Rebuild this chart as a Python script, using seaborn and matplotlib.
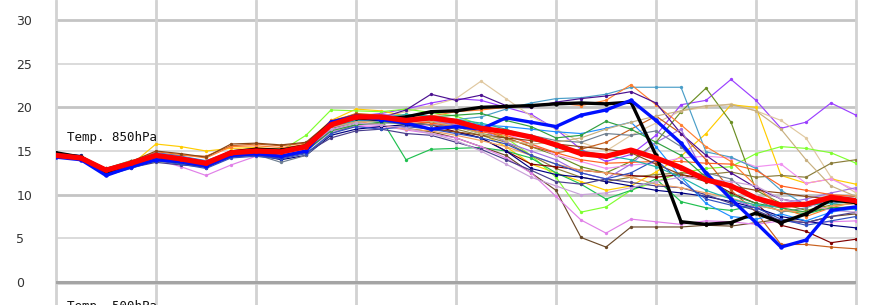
import numpy as np
import pandas as pd
import matplotlib
matplotlib.use("Agg")
import matplotlib.pyplot as plt
import seaborn as sns

# ---- data (Temp. 850hPa ensemble, 6-hourly steps) ----
steps = list(range(33))

mean_run = [14.5,14.2,12.8,13.6,14.5,14.1,13.6,14.8,15.0,14.9,15.5,18.0,18.9,18.9,18.5,18.8,18.4,17.6,17.2,16.6,15.7,14.7,14.4,15.1,14.2,13.1,11.7,11.0,9.6,8.8,8.9,9.7,9.3]
control_run = [14.8,14.3,12.6,13.5,14.4,14.0,13.4,14.9,15.2,15.1,15.6,18.2,18.8,18.6,18.9,19.5,19.6,20.0,20.1,20.2,20.4,20.5,20.4,20.6,14.5,6.9,6.6,6.8,7.9,6.8,7.8,9.4,9.1]
oper_run = [14.3,14.0,12.2,13.2,14.0,13.8,13.3,14.5,14.7,14.4,15.0,18.3,19.0,18.6,18.2,17.5,17.8,17.5,18.8,18.3,17.8,19.1,19.7,20.8,18.5,15.9,12.5,9.5,6.8,4.0,4.8,8.2,8.6]

m01 = [14.6,14.3,12.9,13.8,14.8,14.3,13.8,15.0,15.2,15.0,15.6,18.2,19.0,19.3,19.8,20.5,21.0,20.8,20.0,19.2,17.5,15.2,13.8,14.6,16.8,20.3,20.8,23.2,20.8,17.6,18.3,20.5,19.1]
m02 = [14.4,14.1,12.6,13.5,14.3,14.0,13.5,14.6,14.9,14.7,15.3,17.8,18.7,18.9,19.5,20.2,21.0,23.0,21.0,19.0,17.5,16.0,15.0,16.8,18.2,19.6,20.0,20.4,19.6,18.5,16.5,12.0,10.2]
m03 = [14.5,14.2,12.4,13.4,15.8,15.5,15.0,15.3,15.4,15.2,15.8,18.5,19.8,19.6,19.0,18.6,18.0,17.0,15.5,13.5,12.5,11.5,10.5,11.0,12.6,14.4,17.0,20.3,20.0,12.2,11.3,11.8,11.2]
m04 = [14.3,14.0,12.5,13.2,13.8,13.6,13.2,14.5,14.8,15.0,16.8,19.7,19.6,19.5,19.8,19.4,19.0,18.0,16.5,14.5,12.0,8.0,8.6,10.5,11.5,12.5,13.0,13.2,14.7,15.5,15.3,14.8,13.6]
m05 = [14.7,14.4,13.0,13.9,14.2,13.8,13.5,14.6,14.4,14.2,15.2,17.5,18.5,18.7,14.0,15.2,15.3,15.4,15.0,14.2,12.5,11.2,9.5,10.5,11.8,9.2,8.5,8.2,8.8,8.2,7.8,8.5,8.3]
m06 = [14.5,14.2,12.9,13.7,14.6,14.2,13.7,14.9,15.0,14.8,15.4,17.9,18.6,18.4,18.0,18.3,17.8,17.0,16.5,15.5,14.5,13.2,12.5,13.8,16.0,19.5,22.2,18.3,10.5,9.0,8.2,8.8,9.0]
m07 = [14.6,14.3,12.7,13.5,14.4,14.0,13.6,14.8,15.1,14.9,15.5,17.6,18.3,18.5,18.2,18.0,17.5,16.8,16.0,14.5,13.0,12.0,11.5,12.0,12.3,12.5,12.3,12.6,12.0,12.2,12.0,13.6,14.0]
m08 = [14.4,14.2,12.6,13.4,14.3,13.9,13.4,14.6,14.9,14.6,15.2,17.5,18.2,18.0,17.6,17.2,16.5,15.5,14.5,12.5,10.5,5.1,4.0,6.3,6.3,6.3,6.5,6.4,6.8,7.2,6.8,7.5,7.8]
m09 = [14.3,14.0,12.8,13.3,14.0,13.2,12.2,13.4,14.4,14.2,15.0,17.2,17.8,17.9,17.4,17.0,16.5,15.5,14.2,12.5,9.8,7.1,5.6,7.2,6.9,6.6,7.0,6.9,6.6,7.0,6.8,6.9,7.0]
m10 = [14.5,14.2,12.9,13.6,14.3,13.9,13.5,14.7,14.8,14.6,15.2,17.4,18.0,17.6,17.8,18.0,18.5,17.8,17.0,15.8,14.5,13.8,13.0,13.4,13.6,14.2,14.4,14.2,13.2,13.5,11.3,11.8,10.5]
m11 = [14.6,14.3,12.8,13.7,14.5,14.1,13.7,14.9,15.1,14.9,15.5,17.8,18.5,18.6,18.2,18.0,17.2,16.5,15.0,13.5,13.2,12.8,12.5,12.2,12.0,12.3,11.8,10.2,9.0,6.5,5.8,4.5,4.9]
m12 = [14.5,14.1,12.7,13.6,14.7,14.5,14.4,15.6,15.8,15.6,15.9,18.3,19.3,19.1,18.6,18.4,18.0,17.4,16.5,15.5,14.8,15.2,16.0,17.5,19.0,17.0,14.0,10.5,8.0,4.3,4.3,4.0,3.8]
m13 = [14.6,14.2,12.8,13.6,14.6,14.2,13.6,14.8,15.0,14.8,15.4,18.0,18.8,18.8,18.5,18.7,18.6,18.9,19.8,20.5,21.0,21.1,21.5,22.3,22.3,22.3,14.9,14.3,13.0,10.5,8.8,9.5,9.8]
m14 = [14.4,14.1,12.6,13.7,14.9,14.6,14.2,15.5,15.6,15.4,15.7,18.5,19.2,19.0,18.8,19.0,19.5,19.7,20.0,20.2,20.5,20.2,20.8,22.6,20.3,18.0,15.5,13.8,11.0,8.5,7.5,8.5,9.2]
m15 = [14.5,14.2,12.4,13.3,14.0,13.6,13.1,14.3,14.6,14.4,15.0,17.5,18.5,18.8,19.7,21.5,20.8,21.4,20.2,20.0,20.6,21.0,21.3,21.8,20.5,17.0,14.5,12.5,10.8,9.5,9.0,9.0,9.4]
m16 = [14.7,14.5,12.5,13.2,14.0,13.5,13.2,14.4,14.6,14.0,14.5,16.8,17.5,17.8,18.0,17.5,17.2,16.5,15.0,13.0,12.3,12.0,11.5,11.0,10.5,10.2,9.8,9.2,8.5,7.5,7.0,6.5,6.2]
m17 = [14.5,14.3,12.5,13.5,14.8,14.4,13.9,14.9,15.0,14.9,15.5,18.0,18.6,18.4,18.8,18.6,18.5,18.0,17.8,17.5,17.2,17.0,17.6,18.3,15.5,12.0,9.0,7.5,7.2,7.8,7.0,8.0,8.4]
m18 = [14.6,14.2,13.0,13.8,14.4,14.0,13.4,14.5,14.6,13.7,14.5,17.0,18.0,18.2,18.2,18.0,17.8,17.5,17.0,16.8,16.2,16.0,17.0,16.8,17.3,15.5,12.5,11.8,9.5,8.0,8.5,9.5,9.2]
m19 = [14.4,14.1,12.3,13.1,13.7,13.4,13.2,14.3,14.5,14.2,14.8,16.5,17.3,17.5,17.0,16.8,16.0,15.2,14.0,12.8,11.5,11.2,11.8,11.4,11.0,10.8,10.0,9.0,8.2,7.0,6.8,7.5,8.0]
m20 = [14.5,14.2,13.0,13.8,14.7,14.3,13.8,14.9,15.1,14.9,15.4,17.8,18.6,19.2,19.0,18.5,18.0,17.5,16.0,15.0,14.0,12.5,11.8,13.5,16.0,17.5,12.0,9.5,8.5,9.0,9.5,10.2,10.8]
m21 = [14.5,14.3,12.9,13.9,14.6,14.2,13.7,14.8,15.0,14.8,15.3,17.7,18.4,18.0,17.5,17.3,16.8,16.2,15.5,14.5,13.5,12.8,12.5,12.0,11.2,10.8,10.2,9.6,8.8,8.2,8.0,8.7,9.0]
m22 = [14.6,14.4,12.8,13.7,14.5,14.2,13.7,15.0,15.3,15.0,15.6,18.1,18.8,18.6,18.4,18.2,17.8,17.2,16.8,15.8,14.8,14.0,13.6,13.7,13.8,13.8,13.6,13.5,12.8,11.0,10.5,10.0,9.8]
m23 = [14.7,14.4,12.9,13.8,14.2,13.9,13.6,14.6,14.7,14.6,15.0,17.3,18.0,18.3,18.5,18.9,19.1,19.3,18.5,17.8,16.5,16.8,18.4,17.5,16.0,14.5,12.0,10.0,9.0,8.5,8.0,8.5,8.6]
m24 = [14.6,14.3,13.0,13.8,15.0,14.7,14.3,15.8,15.9,15.7,16.0,18.4,19.2,19.0,18.2,17.5,17.2,16.8,16.5,16.2,15.8,15.5,15.2,14.8,13.5,12.3,11.5,11.0,10.5,10.2,9.8,9.5,9.0]
m25 = [14.4,14.1,12.2,13.0,13.9,13.5,13.0,14.2,14.4,14.1,14.7,17.0,17.8,17.5,17.8,17.5,17.0,16.5,15.8,14.5,13.5,12.5,11.8,12.5,14.0,11.5,9.5,8.8,8.5,7.2,6.5,7.0,7.5]
m26 = [14.5,14.2,12.7,13.5,14.5,14.1,13.7,14.6,14.8,14.6,15.3,17.8,18.5,18.8,19.2,19.0,18.6,18.2,17.5,16.5,15.5,15.0,14.5,14.0,13.2,12.0,10.5,9.5,8.8,8.6,8.8,9.0,9.2]
m27 = [14.5,14.2,12.8,13.6,14.4,14.0,13.6,14.8,15.0,14.8,15.4,17.7,18.3,18.5,18.7,18.4,17.8,17.0,16.2,15.8,16.0,16.5,17.5,18.3,19.0,19.6,20.2,20.3,19.6,17.5,14.0,11.0,9.8]
m28 = [14.3,14.0,12.7,13.5,14.2,13.8,13.4,14.6,14.8,14.6,15.2,17.5,18.2,18.0,17.6,17.0,16.2,15.0,13.5,12.0,11.0,10.0,10.2,10.8,11.5,12.0,11.8,11.5,11.0,9.5,9.0,8.2,8.0]

members = [m01,m02,m03,m04,m05,m06,m07,m08,m09,m10,m11,m12,m13,m14,
           m15,m16,m17,m18,m19,m20,m21,m22,m23,m24,m25,m26,m27,m28]
member_colors = ["#9b40ff","#e0c8a0","#ffcc00","#80ff30","#20c050","#6b8e23",
                 "#8b7d3a","#6b4a2a","#e080e8","#f090f0","#800000","#c8601e",
                 "#4a9ec8","#ff8030","#4b1090","#000080","#1e90ff","#708090",
                 "#483d8b","#a070e0","#f0a060","#ff6020","#30a040","#8b4513",
                 "#3050c0","#20b2aa","#c8b080","#c8a0d8"]
y_ticks = [0, 5, 10, 15, 20, 25, 30]
panel_title = "Temp. 850hPa"
next_panel_title = "Temp. 500hPa"

# ---- figure ----
sns.set_theme(style="white")
W, H = 873, 305
fig = plt.figure(figsize=(W / 100, H / 100), dpi=100)
ax = fig.add_axes([56 / W, 0, 800 / W, 1])
ax.set_facecolor("white")
for s in ax.spines.values():
    s.set_visible(False)

ymax = 282 / 8.733
ymin = (282 - 305) / 8.733
ax.set_xlim(0, 32)
ax.set_ylim(ymin, ymax)

# grid lines
for v in [30, 20, 10]:
    ax.axhline(v, color="#c4c4c4", lw=2.0, zorder=0)
for v in [25, 15, 5]:
    ax.axhline(v, color="#d4d4d4", lw=1.2, zorder=0)
ax.axhline(0, color="#a4a4a4", lw=2.2, zorder=0.5)
ax.axhline(-0.2, color="#cfcfcf", lw=1.2, zorder=0.4)
for xv in range(0, 33, 4):
    ax.axvline(xv, color="#d2d2d2", lw=2.0, zorder=0, clip_on=False)

# members
rows = []
for k, vals in enumerate(members):
    for t, v in zip(steps, vals):
        rows.append({"step": t, "temp": v, "member": f"m{k+1:02d}"})
df = pd.DataFrame(rows)
pal = {f"m{k+1:02d}": c for k, c in enumerate(member_colors)}
sns.lineplot(data=df, x="step", y="temp", hue="member", palette=pal,
             units="member", estimator=None, lw=0.85, marker="o",
             markersize=2.4, markeredgewidth=0, legend=False, ax=ax, zorder=2)

sns.lineplot(x=steps, y=control_run, color="black", lw=2.4, marker="o",
             markersize=3.2, markeredgewidth=0, ax=ax, zorder=3)
sns.lineplot(x=steps, y=oper_run, color="#0010ff", lw=2.4, marker="o",
             markersize=3.2, markeredgewidth=0, ax=ax, zorder=4)
sns.lineplot(x=steps, y=mean_run, color="#ff0000", lw=3.8, marker="o",
             markersize=3.5, markeredgewidth=0, ax=ax, zorder=5)

# ticks
ax.set_xticks([])
ax.set_yticks(y_ticks)
ax.set_yticklabels([str(v) for v in y_ticks], fontsize=9, color="#333333",
                   family="DejaVu Sans")
ax.tick_params(axis="y", length=0, pad=28.5)
for lbl in ax.get_yticklabels():
    lbl.set_ha("left")
ax.set_xlabel("")
ax.set_ylabel("")

ax.text(0.44, 16.2, panel_title, family="DejaVu Sans Mono", fontsize=9,
        color="#111111", ha="left", va="baseline", zorder=6)
ax.text(0.44, -2.1, next_panel_title, family="DejaVu Sans Mono", fontsize=9,
        color="#111111", ha="left", va="top", zorder=6, clip_on=True)

fig.savefig("out.png", dpi=100, facecolor="white")
